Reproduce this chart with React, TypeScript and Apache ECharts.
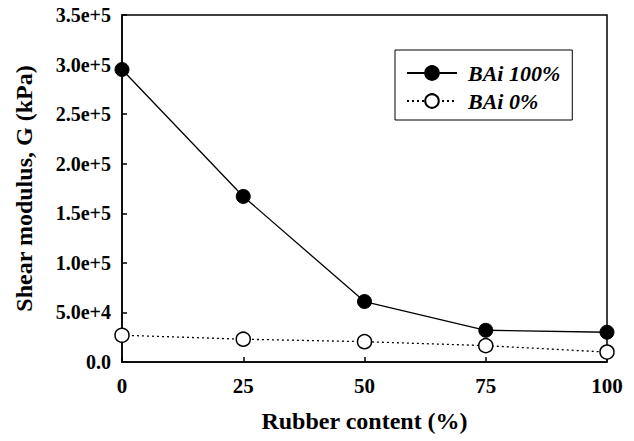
import React, { useEffect, useRef } from "react";
import * as echarts from "echarts";

const rubberContent = [0, 25, 50, 75, 100];
const bai100 = [295000, 167000, 61000, 32000, 30000];
const bai0 = [27000, 23000, 20500, 16500, 10000];
const seriesNames = ["BAi 100%", "BAi 0%"];
const xTitle = "Rubber content (%)";
const yTitle = "Shear modulus, G (kPa)";

const FONT = "Liberation Serif";

export default function App() {
  const ref = useRef<HTMLDivElement>(null);
  useEffect(() => {
    if (!ref.current) return;
    const chart = echarts.init(ref.current, undefined, { renderer: "svg" });
    chart.setOption({
      animation: false,
      backgroundColor: "#ffffff",
      textStyle: { fontFamily: FONT },
      grid: {
        left: 122,
        right: 27,
        top: 15,
        bottom: 79,
        show: true,
        borderColor: "#000",
        borderWidth: 1.5,
        backgroundColor: "transparent",
      },
      legend: {
        orient: "vertical",
        left: 395,
        top: 50,
        padding: [12, 12, 8, 11],
        itemGap: 6,
        itemWidth: 50,
        itemHeight: 17,
        borderColor: "#000",
        borderWidth: 1,
        backgroundColor: "#fff",
        textStyle: {
          fontFamily: FONT,
          fontSize: 22,
          fontWeight: "bold",
          fontStyle: "italic",
          color: "#000",
          padding: [0, 0, 0, 6],
        },
        data: seriesNames,
      },
      xAxis: {
        type: "value",
        min: 0,
        max: 100,
        interval: 25,
        name: xTitle,
        nameLocation: "middle",
        nameGap: 47,
        nameTextStyle: { fontFamily: FONT, fontSize: 24, fontWeight: "bold", color: "#000" },
        axisLine: { show: true, lineStyle: { color: "#000", width: 1.5 } },
        axisTick: { show: true, inside: true, length: 5, lineStyle: { color: "#000", width: 1.5 } },
        axisLabel: { fontFamily: FONT, fontSize: 21, fontWeight: "bold", color: "#000", margin: 13 },
        splitLine: { show: false },
      },
      yAxis: {
        type: "value",
        min: 0,
        max: 350000,
        interval: 50000,
        name: yTitle,
        nameLocation: "middle",
        nameRotate: 90,
        nameGap: 86,
        nameTextStyle: { fontFamily: FONT, fontSize: 24, fontWeight: "bold", color: "#000" },
        axisLine: { show: true, lineStyle: { color: "#000", width: 1.5 } },
        axisTick: { show: true, inside: true, length: 5, lineStyle: { color: "#000", width: 1.5 } },
        axisLabel: {
          fontFamily: FONT,
          fontSize: 20,
          fontWeight: "bold",
          color: "#000",
          margin: 11,
          formatter: (v: number) => (v === 0 ? "0.0" : v.toExponential(1)),
        },
        splitLine: { show: false },
      },
      series: [
        {
          name: seriesNames[0],
          type: "line",
          data: rubberContent.map((x, i) => [x, bai100[i]]),
          symbol: "circle",
          symbolSize: 14,
          lineStyle: { color: "#000", width: 1.3, type: "solid" },
          itemStyle: { color: "#000", borderColor: "#000", borderWidth: 1 },
          z: 3,
        },
        {
          name: seriesNames[1],
          type: "line",
          data: rubberContent.map((x, i) => [x, bai0[i]]),
          symbol: "circle",
          symbolSize: 14,
          lineStyle: { color: "#000", width: 1.3, type: [2, 3] },
          itemStyle: { color: "#fff", borderColor: "#000", borderWidth: 1.5 },
          z: 3,
        },
      ],
    });
    return () => chart.dispose();
  }, []);
  return (
    <div
      ref={ref}
      style={{ position: "fixed", left: 0, top: 0, width: 634, height: 441, background: "#fff" }}
    />
  );
}
